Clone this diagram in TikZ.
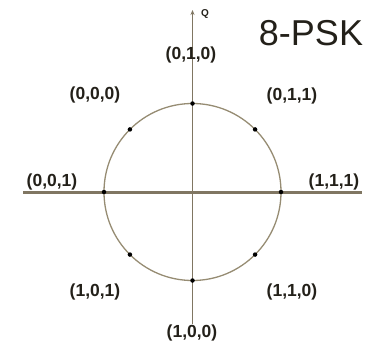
\documentclass[tikz,border=0pt]{standalone}
\usepackage{fontspec}
\setmainfont{Liberation Sans}
\usetikzlibrary{arrows.meta,calc}
\definecolor{axiscol}{RGB}{128,118,98}
\definecolor{circcol}{RGB}{150,140,115}
\definecolor{txtcol}{RGB}{35,32,25}
\tikzset{
  lbl/.style={font=\fontsize{17.5}{17.5}\selectfont\bfseries, text=txtcol, inner sep=0pt},
  dot/.style={circle, fill=black, inner sep=0pt, minimum size=4.5pt},
}
\begin{document}
\begin{tikzpicture}[x=1pt,y=-1pt]
\useasboundingbox (0,0) rectangle (365,348);
\coordinate (O) at (192.5,192);
\coordinate (hl) at (23,192);
\coordinate (hr) at (362,192);
\coordinate (vb) at (192.5,324);
\coordinate (vt) at (192.5,10);
\draw[axiscol, line width=3pt] (hl) -- (hr);
\draw[axiscol, line width=1.5pt, -{Stealth[length=5pt,width=4pt]}] (vb) -- (vt);
\draw[circcol, line width=1.3pt] (O) circle[radius=88.5];
\foreach \a/\n in {0/p0,45/p1,90/p2,135/p3,180/p4,225/p5,270/p6,315/p7}
  \node[dot] (\n) at ($(O)+(\a:88.5)$) {};
\node[font=\fontsize{10}{10}\selectfont\bfseries, text=txtcol, inner sep=0pt] (q) at (205,14) {Q};
\node[font=\fontsize{36}{36}\selectfont, text=txtcol, inner sep=0pt] (title) at (311,33) {8-PSK};
\node[lbl] (l010) at (191,55) {(0,1,0)};
\node[lbl] (l011) at (292,96) {(0,1,1)};
\node[lbl] (l000) at (95,95) {(0,0,0)};
\node[lbl] (l001) at (52,182) {(0,0,1)};
\node[lbl] (l111) at (334,182) {(1,1,1)};
\node[lbl] (l101) at (95,292) {(1,0,1)};
\node[lbl] (l110) at (292,292) {(1,1,0)};
\node[lbl] (l100) at (192,333) {(1,0,0)};
\end{tikzpicture}
\end{document}
